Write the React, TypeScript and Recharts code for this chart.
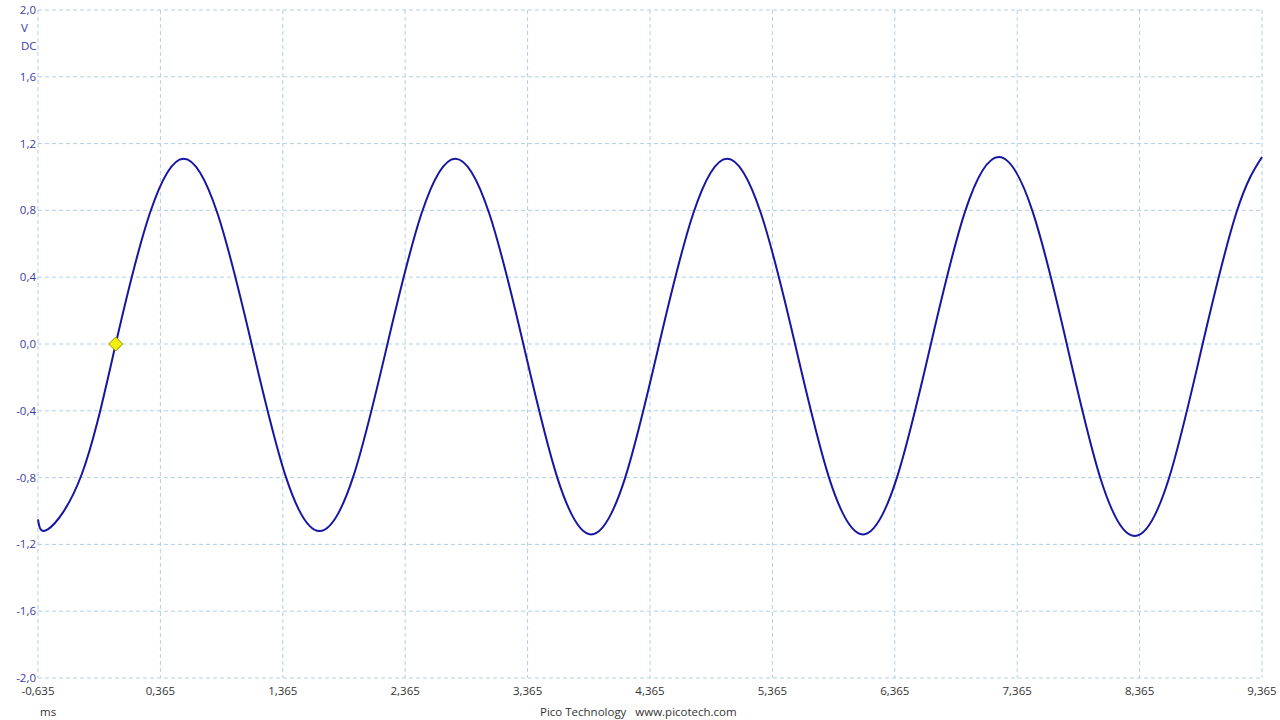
import { LineChart, Line, XAxis, YAxis, CartesianGrid, ReferenceDot } from 'recharts';

// time in ms (peaks, troughs, zero crossings and 45° points)
const times = [
    -0.635, -0.555, -0.2775, 0, 0.2775, 0.555, 0.8325, 1.11, 1.3875, 1.665, 1.9425, 2.22, 2.4975, 2.775,
    3.0525, 3.33, 3.6075, 3.885, 4.1625, 4.44, 4.7175, 4.995, 5.2725, 5.55, 5.8275, 6.105, 6.3825, 6.66,
    6.9375, 7.215, 7.4925, 7.77, 8.0475, 8.325, 8.6025, 8.88, 9.1575, 9.365
];
const volts = [
    -1.05, -1.11, -0.78, 0, 0.78, 1.11, 0.78, 0, -0.79, -1.12, -0.79, 0, 0.78, 1.11,
    0.78, 0, -0.8, -1.14, -0.8, 0, 0.78, 1.11, 0.78, 0, -0.8, -1.14, -0.8, 0,
    0.79, 1.12, 0.79, 0, -0.81, -1.15, -0.81, 0, 0.79, 1.12
];

const xTicks = [-0.635, 0.365, 1.365, 2.365, 3.365, 4.365, 5.365, 6.365, 7.365, 8.365, 9.365];
const yTicks = [-2, -1.6, -1.2, -0.8, -0.4, 0, 0.4, 0.8, 1.2, 1.6, 2];

const trigger = { t: 0, v: 0 };

const data = times.map((t, i) => ({ t, v: volts[i] }));

const FONT = '"Open Sans", "Noto Sans", sans-serif';
const FS = 11.5;

function Diamond(props: any) {
    const { cx, cy } = props;
    const r = 7;
    return (
        <polygon
            points={`${cx},${cy - r} ${cx + r},${cy} ${cx},${cy + r} ${cx - r},${cy}`}
            fill="#f2ee10"
            stroke="#9a9400"
            strokeWidth={1}
        />
    );
}

export default function App() {
    return (
        <div style={{ position: 'absolute', left: 0, top: 0, width: 1280, height: 720, background: '#fff', fontFamily: FONT }}>
            <LineChart width={1280} height={720} data={data} margin={{ top: 10, right: 18, bottom: 12, left: 0 }}>
                <CartesianGrid stroke="#b2cfe2" strokeDasharray="4 3" />
                <XAxis
                    dataKey="t"
                    type="number"
                    domain={[-0.635, 9.365]}
                    ticks={xTicks}
                    interval={0}
                    height={30}
                    axisLine={false}
                    tickLine={false}
                    tickSize={0}
                    tickMargin={9}
                    tick={{ fill: '#333', fontSize: FS, fontFamily: FONT }}
                    tickFormatter={(v: number) => v.toFixed(3).replace('.', ',')}
                />
                <YAxis
                    type="number"
                    domain={[-2, 2]}
                    ticks={yTicks}
                    interval={0}
                    width={38}
                    axisLine={false}
                    tickLine={false}
                    tickSize={0}
                    tickMargin={2}
                    tick={{ fill: '#3b3ba8', fontSize: FS, fontFamily: FONT }}
                    tickFormatter={(v: number) => v.toFixed(1).replace('.', ',')}
                />
                <Line
                    dataKey="v"
                    type="natural"
                    stroke="#1616a2"
                    strokeWidth={2}
                    dot={false}
                    isAnimationActive={false}
                />
                <ReferenceDot x={trigger.t} y={trigger.v} shape={Diamond} />
            </LineChart>
            <div style={{ position: 'absolute', left: 21, top: 20, fontSize: FS, color: '#3b3ba8' }}>V</div>
            <div style={{ position: 'absolute', left: 21, top: 38, fontSize: FS, color: '#3b3ba8' }}>DC</div>
            <div style={{ position: 'absolute', left: 40, top: 704, fontSize: FS, color: '#333' }}>ms</div>
            <div style={{ position: 'absolute', left: 540, top: 704, fontSize: FS, color: '#333', whiteSpace: 'pre' }}>
                Pico Technology   www.picotech.com
            </div>
        </div>
    );
}
